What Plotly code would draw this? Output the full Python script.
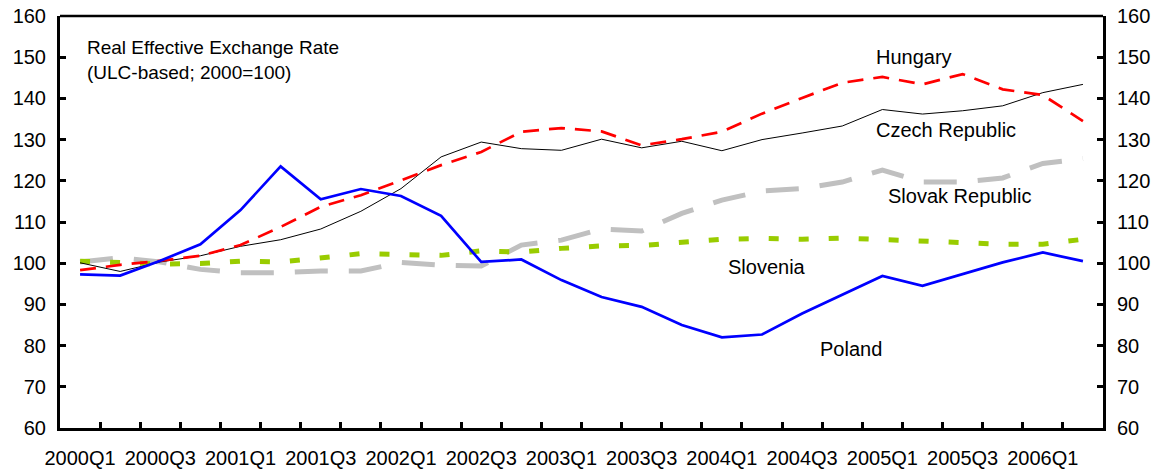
import plotly.graph_objects as go

# quarterly REER, ULC-based, 2000=100
quarters = [
    "2000Q1", "2000Q2", "2000Q3", "2000Q4", "2001Q1", "2001Q2", "2001Q3", "2001Q4",
    "2002Q1", "2002Q2", "2002Q3", "2002Q4", "2003Q1", "2003Q2", "2003Q3", "2003Q4",
    "2004Q1", "2004Q2", "2004Q3", "2004Q4", "2005Q1", "2005Q2", "2005Q3", "2005Q4",
    "2006Q1", "2006Q2",
]
poland = [97.3, 97.0, 100.6, 104.6, 112.9, 123.5, 115.5, 118.0, 116.3, 111.5, 100.3, 100.9, 95.9,
          91.8, 89.4, 85.0, 82.0, 82.7, 87.8, 92.3, 96.9, 94.5, 97.3, 100.2, 102.6, 100.5]
czech = [100.1, 98.0, 100.3, 101.8, 104.1, 105.7, 108.3, 112.6, 118.1, 125.8, 129.4, 127.8, 127.4,
         130.1, 128.0, 129.6, 127.3, 130.0, 131.6, 133.3, 137.3, 136.2, 137.0, 138.2, 141.4, 143.4]
hungary = [98.3, 99.6, 100.6, 101.8, 104.4, 108.8, 113.7, 116.5, 120.1, 123.8, 127.0, 131.9, 132.8,
           132.0, 128.6, 130.1, 131.9, 136.3, 140.1, 143.8, 145.2, 143.4, 145.9, 142.2, 140.8, 134.5]
slovak = [100.3, 101.3, 100.3, 98.5, 97.7, 97.7, 98.1, 98.1, 100.2, 99.5, 99.3, 104.4, 105.6,
          108.3, 107.8, 112.1, 115.3, 117.5, 118.1, 119.7, 122.6, 119.7, 119.7, 120.7, 124.2, 125.4]
slovenia = [100.5, 100.1, 99.8, 99.9, 100.5, 100.3, 101.3, 102.3, 102.1, 101.9, 103.0, 102.7, 103.6,
            104.2, 104.3, 105.0, 105.8, 106.0, 105.8, 106.1, 105.8, 105.4, 105.0, 104.6, 104.6, 105.8]

FONT = "Liberation Sans"
x = list(range(len(quarters)))

fig = go.Figure()
fig.add_trace(go.Scatter(x=x, y=slovak, mode="lines", name="Slovak Republic",
                         line=dict(color="#C0C0C0", width=5, dash="33px,21px")))
fig.add_trace(go.Scatter(x=x, y=slovenia, mode="lines", name="Slovenia",
                         line=dict(color="#99CC00", width=5, dash="10px,20px")))
fig.add_trace(go.Scatter(x=x, y=czech, mode="lines", name="Czech Republic",
                         line=dict(color="black", width=1)))
fig.add_trace(go.Scatter(x=x, y=hungary, mode="lines", name="Hungary",
                         line=dict(color="#FF0000", width=2.7, dash="16px,10px")))
fig.add_trace(go.Scatter(x=x, y=poland, mode="lines", name="Poland", yaxis="y2",
                         line=dict(color="#0000FF", width=2.7)))

# series labels
labels = [
    ("Hungary", 19.8, 150.0),
    ("Czech Republic", 19.8, 132.3),
    ("Slovak Republic", 20.1, 116.3),
    ("Slovenia", 16.1, 99.0),
    ("Poland", 18.4, 79.1),
]
for txt, lx, ly in labels:
    fig.add_annotation(x=lx, y=ly, text=txt, showarrow=False, xanchor="left",
                       yanchor="middle", font=dict(family=FONT, size=20, color="black"))

fig.add_annotation(x=0.12, y=149.3, text="Real Effective Exchange Rate<br>(ULC-based; 2000=100)",
                   showarrow=False, xanchor="left", yanchor="middle", align="left",
                   font=dict(family=FONT, size=19, color="black"))

# top frame line
fig.add_shape(type="line", xref="paper", yref="paper", x0=0, x1=1, y0=1, y1=1,
              line=dict(color="black", width=2.5))

yticks = dict(range=[60, 160], dtick=10, tick0=60, showgrid=False, zeroline=False,
              showline=True, linecolor="black", linewidth=3, ticks="inside", ticklen=6,
              tickwidth=2.5, tickcolor="black", ticklabelstandoff=7, automargin=False,
              ticklabeloverflow="allow",
              tickfont=dict(family=FONT, size=20, color="black"))

fig.update_layout(
    width=1163, height=474,
    margin=dict(l=60, r=60, t=16, b=46),
    paper_bgcolor="white", plot_bgcolor="white",
    showlegend=False,
    xaxis=dict(
        range=[-0.5, len(quarters) - 0.5],
        tickmode="linear", tick0=0, dtick=2,
        labelalias={str(i): q for i, q in enumerate(quarters)},
        ticks="inside", ticklen=0,
        minor=dict(ticks="inside", tick0=-0.5, dtick=1, ticklen=6, tickwidth=2.5,
                   tickcolor="black", showgrid=False),
        showgrid=False, zeroline=False, showline=True, automargin=False,
        ticklabeloverflow="allow",
        linecolor="black", linewidth=3, ticklabelstandoff=10,
        tickfont=dict(family=FONT, size=20, color="black"),
    ),
    yaxis=dict(side="left", **yticks),
    yaxis2=dict(side="right", overlaying="y", **yticks),
)

# drop the default body margin so the figure fills the window exactly
fig.write_html("out.html", config={"displayModeBar": False},
               post_script="document.body.style.margin='0';document.body.style.overflow='hidden';")
